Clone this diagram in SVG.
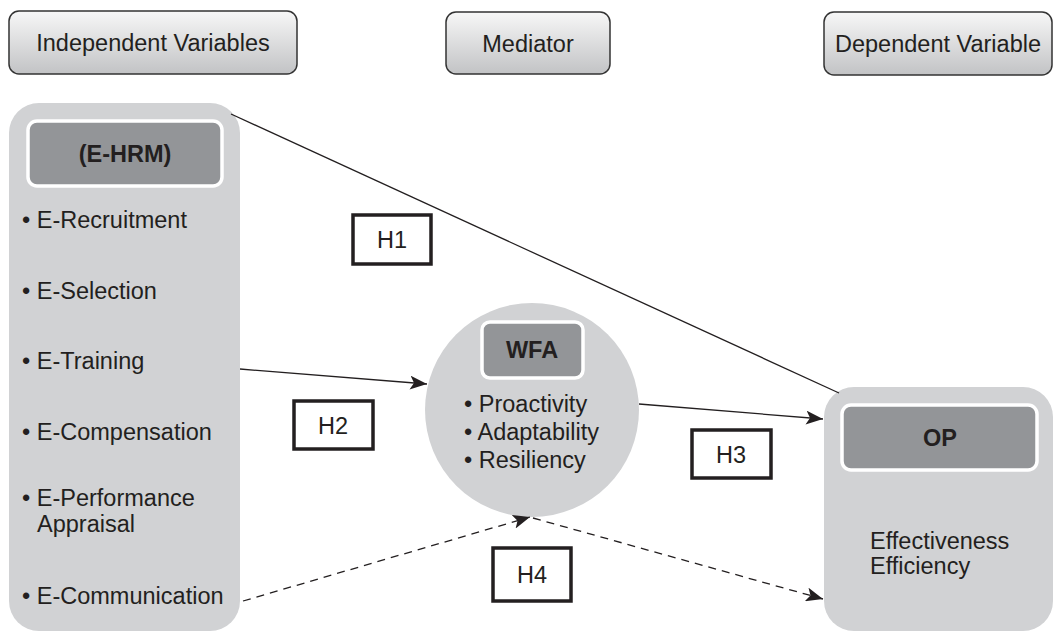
<svg xmlns="http://www.w3.org/2000/svg" width="1054" height="632" viewBox="0 0 1054 632">
<defs>
<linearGradient id="hdr" x1="0" y1="0" x2="0" y2="1">
<stop offset="0" stop-color="#f7f7f7"/>
<stop offset="1" stop-color="#c2c3c5"/>
</linearGradient>
<marker id="arr" markerUnits="userSpaceOnUse" markerWidth="18" markerHeight="14" refX="17" refY="7" orient="auto">
<path d="M0,0 L17,7 L0,14 L4,7 Z" fill="#231f20"/>
</marker>
</defs>
<style>
text{font-family:"Liberation Sans",Arial,sans-serif;fill:#231f20;font-size:23.5px}
.hdr{fill:url(#hdr);stroke:#333;stroke-width:1.5}
.panel{fill:#d1d2d4}
.dark{fill:#939598;stroke:#fff;stroke-width:3.5}
.b{font-weight:bold}
.c{text-anchor:middle}
.hb{fill:#fff;stroke:#231f20;stroke-width:3.5}
.ln{stroke:#231f20;stroke-width:1.3;fill:none}
.dash{stroke-dasharray:8 6}
</style>
<g id="hdr-independent">
<rect class="hdr" x="9" y="11" width="288" height="63" rx="10"/>
<text x="153" y="51" class="c">Independent Variables</text>
</g>
<g id="hdr-mediator">
<rect class="hdr" x="446" y="12" width="164" height="62" rx="10"/>
<text x="528" y="52" class="c">Mediator</text>
</g>
<g id="hdr-dependent">
<rect class="hdr" x="824" y="12" width="228" height="63" rx="10"/>
<text x="938" y="52" class="c">Dependent Variable</text>
</g>
<g id="node-ehrm">
<rect class="panel" x="9" y="103" width="231" height="528" rx="30"/>
<rect class="dark" x="28" y="121" width="194" height="65" rx="9"/>
<text x="125" y="162" class="c b">(E-HRM)</text>
<text x="22" y="228">• E-Recruitment</text>
<text x="22" y="299">• E-Selection</text>
<text x="22" y="369">• E-Training</text>
<text x="22" y="440">• E-Compensation</text>
<text x="22" y="506">• E-Performance</text>
<text x="37" y="532">Appraisal</text>
<text x="22" y="604">• E-Communication</text>
</g>
<g id="node-wfa">
<circle cx="532" cy="410" r="107" fill="#d1d2d4"/>
<rect class="dark" x="482" y="322" width="101" height="56" rx="8"/>
<text x="532" y="358" class="c b">WFA</text>
<text x="464" y="412">• Proactivity</text>
<text x="464" y="440">• Adaptability</text>
<text x="464" y="468">• Resiliency</text>
</g>
<g id="node-op">
<rect class="panel" x="824" y="387" width="229" height="244" rx="30"/>
<rect class="dark" x="842" y="405" width="195" height="65" rx="9"/>
<text x="940" y="446" class="c b">OP</text>
<text x="870" y="549">Effectiveness</text>
<text x="870" y="574">Efficiency</text>
</g>
<g id="connectors">
<line class="ln" x1="231" y1="114" x2="839" y2="393"/>
<line class="ln" x1="240" y1="369" x2="427" y2="384" marker-end="url(#arr)"/>
<line class="ln" x1="639" y1="404" x2="823" y2="419" marker-end="url(#arr)"/>
<line class="ln dash" x1="243" y1="601" x2="530" y2="517" marker-end="url(#arr)"/>
<line class="ln dash" x1="533" y1="518" x2="823" y2="599" marker-end="url(#arr)"/>
</g>
<g id="label-h1">
<rect class="hb" x="353" y="215" width="78" height="49"/>
<text x="392" y="248" class="c">H1</text>
</g>
<g id="label-h2">
<rect class="hb" x="294" y="401" width="79" height="48"/>
<text x="333" y="434" class="c">H2</text>
</g>
<g id="label-h3">
<rect class="hb" x="692" y="430" width="79" height="48"/>
<text x="731" y="463" class="c">H3</text>
</g>
<g id="label-h4">
<rect class="hb" x="493" y="548" width="78" height="53"/>
<text x="532" y="583" class="c">H4</text>
</g>
</svg>
